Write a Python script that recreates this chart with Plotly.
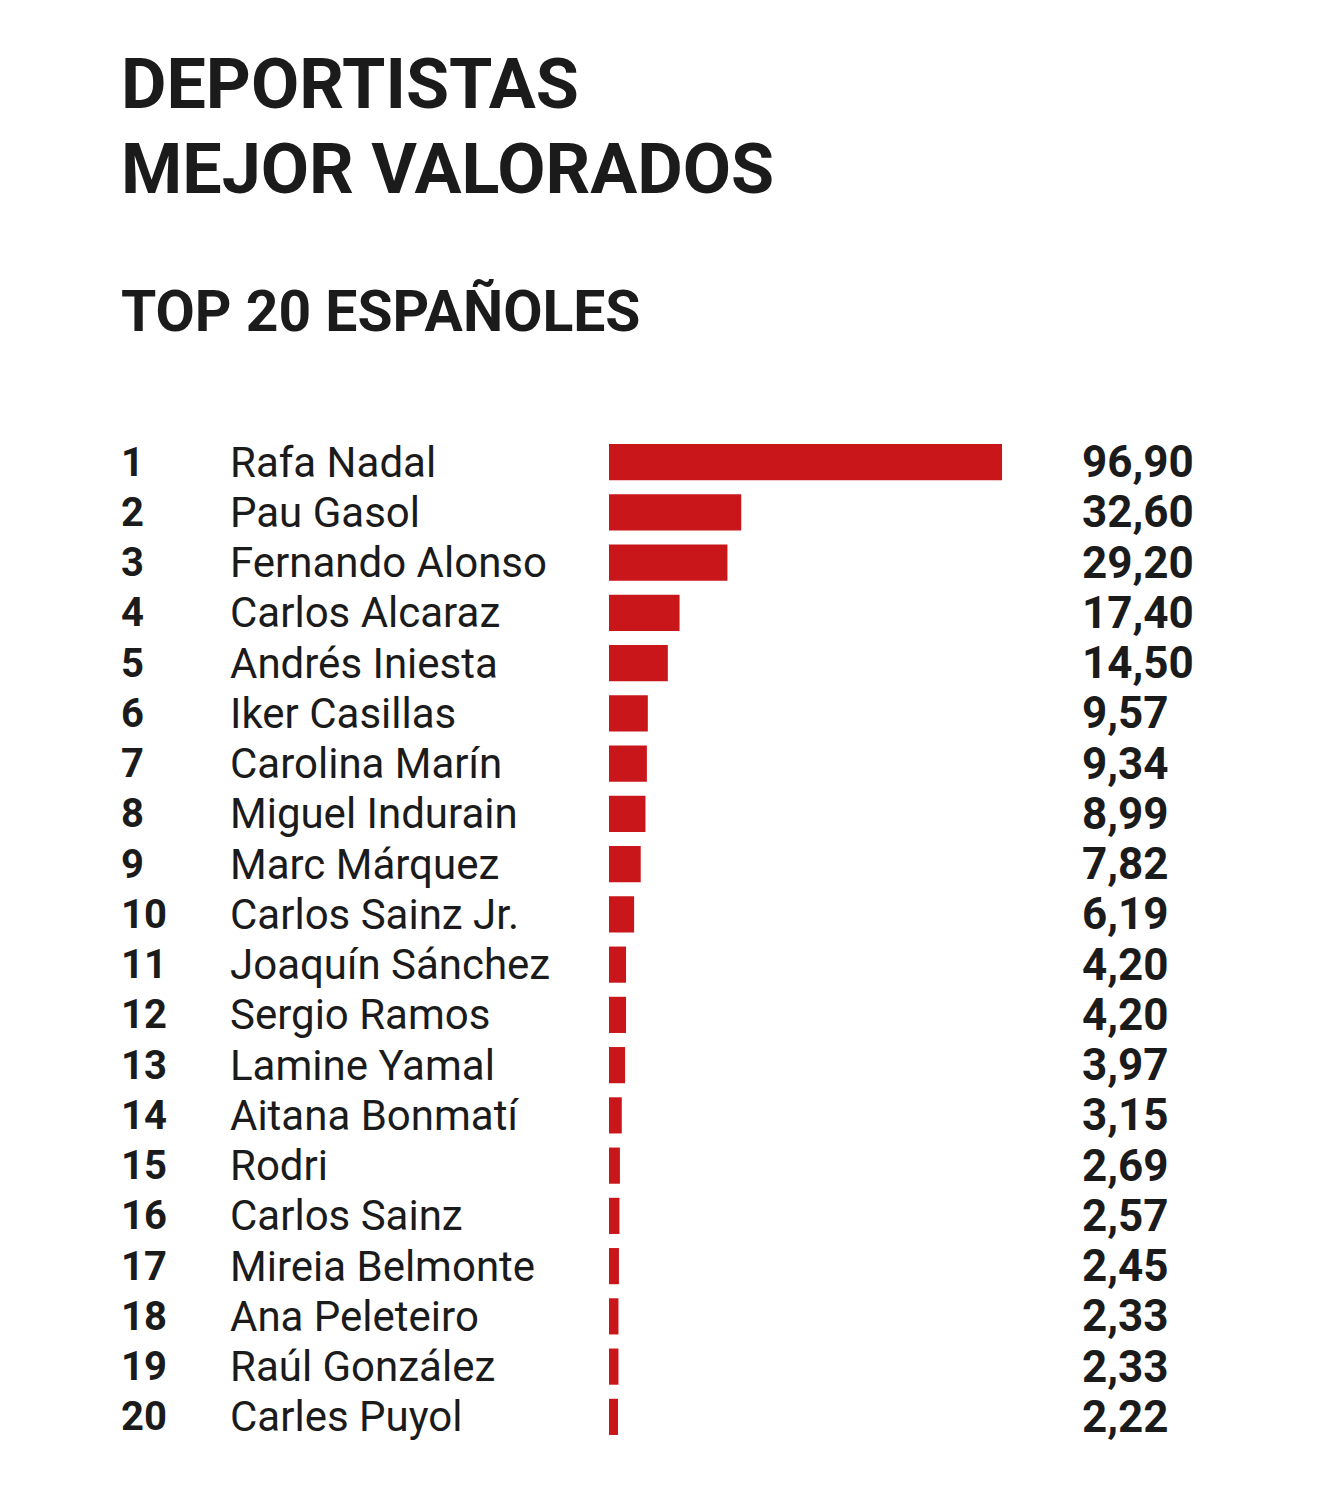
import plotly.graph_objects as go

ranks = list(range(1, 21))
names = ["Rafa Nadal", "Pau Gasol", "Fernando Alonso", "Carlos Alcaraz", "Andrés Iniesta",
         "Iker Casillas", "Carolina Marín", "Miguel Indurain", "Marc Márquez", "Carlos Sainz Jr.",
         "Joaquín Sánchez", "Sergio Ramos", "Lamine Yamal", "Aitana Bonmatí", "Rodri",
         "Carlos Sainz", "Mireia Belmonte", "Ana Peleteiro", "Raúl González", "Carles Puyol"]
values = [96.90, 32.60, 29.20, 17.40, 14.50, 9.57, 9.34, 8.99, 7.82, 6.19,
          4.20, 4.20, 3.97, 3.15, 2.69, 2.57, 2.45, 2.33, 2.33, 2.22]
title_lines = ["DEPORTISTAS", "MEJOR VALORADOS"]
subtitle = "TOP 20 ESPAÑOLES"

W, H = 1320, 1502
OFF = 8  # page offset
TOP, BOT = 437 - OFF, 1442 - OFF
BAR_X0 = 609 - OFF
SCALE = 4.056  # px per unit

def px(p):
    return (p - OFF) / W

def py(p):
    return (BOT - (p - OFF)) / (BOT - TOP)

DARK = "#1b1b1b"
RED = "#c8161b"
idx = list(range(len(names)))

fig = go.Figure()
fig.add_trace(go.Bar(
    x=values, y=idx, orientation="h", width=0.72,
    marker=dict(color=RED, line=dict(width=0)), hoverinfo="skip"))

ann = []
for i, (r, n, v) in enumerate(zip(ranks, names, values)):
    ann.append(dict(x=px(119), y=i, xref="paper", yref="y", text=f"<b>{r}</b>",
                    xanchor="left", yanchor="middle", showarrow=False,
                    font=dict(family="Roboto", size=40, color=DARK)))
    ann.append(dict(x=px(228), y=i, xref="paper", yref="y", text=n,
                    xanchor="left", yanchor="middle", showarrow=False,
                    font=dict(family="Roboto", size=42, color=DARK)))
    ann.append(dict(x=px(1080), y=i, xref="paper", yref="y",
                    text="<b>" + f"{v:.2f}".replace(".", ",") + "</b>",
                    xanchor="left", yanchor="middle", showarrow=False,
                    font=dict(family="Roboto", size=44, color=DARK)))

ann.append(dict(x=px(119), y=py(84), xref="paper", yref="paper", text="<b>" + title_lines[0] + "</b>",
                xanchor="left", yanchor="middle", showarrow=False,
                font=dict(family="Roboto", size=70, color=DARK)))
ann.append(dict(x=px(119), y=py(169), xref="paper", yref="paper", text="<b>" + title_lines[1] + "</b>",
                xanchor="left", yanchor="middle", showarrow=False,
                font=dict(family="Roboto", size=70, color=DARK)))
ann.append(dict(x=px(119), y=py(311), xref="paper", yref="paper", text="<b>" + subtitle + "</b>",
                xanchor="left", yanchor="middle", showarrow=False,
                font=dict(family="Roboto", size=57, color=DARK)))

fig.update_layout(
    width=W, height=H,
    margin=dict(l=0, r=0, t=TOP, b=H - BOT, pad=0),
    paper_bgcolor="white", plot_bgcolor="white",
    showlegend=False,
    annotations=ann,
    xaxis=dict(range=[-BAR_X0 / SCALE, (W - BAR_X0) / SCALE], visible=False, fixedrange=True),
    yaxis=dict(range=[len(names) - 0.5, -0.5], visible=False, fixedrange=True),
)

fig.write_html("out.html", config={"displayModeBar": False})
